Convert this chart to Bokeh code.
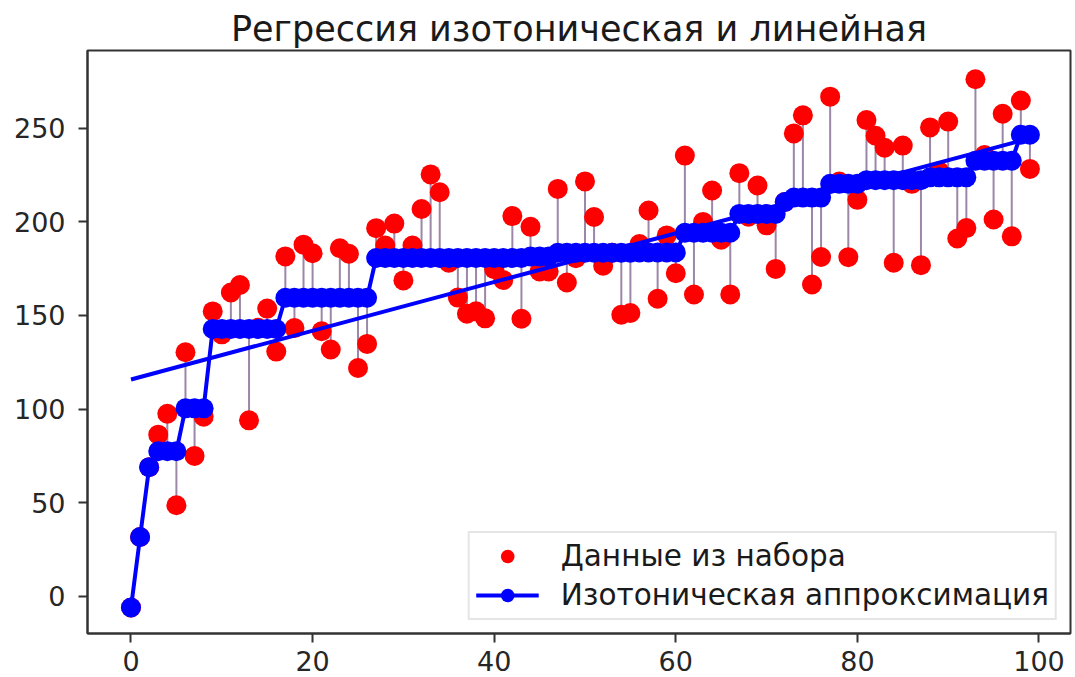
from bokeh.plotting import figure
from bokeh.models import Range1d, FixedTicker, Legend, LegendItem
from bokeh.embed import file_html
from bokeh.resources import INLINE

x_vals = list(range(100))

y_data = [-6.0, 31.66, 68.93, 86.31, 97.47, 48.59, 130.30, 74.97, 95.86, 152.13,
          139.89, 162.25, 166.25, 93.95, 143.40, 153.63, 130.66, 181.52, 143.22, 187.79,
          183.22, 141.55, 131.78, 185.90, 182.94, 121.90, 134.79, 196.61, 187.36, 199.06,
          168.70, 187.29, 206.83, 225.32, 215.77, 178.18, 159.54, 150.88, 152.18, 148.44,
          174.68, 168.89, 203.06, 148.21, 197.33, 173.43, 173.51, 217.56, 167.59, 180.60,
          221.59, 202.56, 176.51, 183.45, 150.37, 151.27, 188.15, 206.02, 158.88, 192.72,
          172.54, 235.36, 161.16, 199.94, 216.72, 190.48, 161.23, 225.97, 202.70, 219.42,
          198.13, 174.83, 210.52, 247.20, 256.87, 166.53, 181.19, 266.83, 221.47, 181.10,
          211.72, 254.33, 245.94, 239.54, 178.13, 240.71, 220.29, 176.86, 250.43, 226.99,
          253.54, 191.09, 196.63, 276.16, 235.69, 201.22, 257.73, 192.25, 264.76, 228.26]

y_iso = [-6.0, 31.66, 68.93, 77.46, 77.46, 77.46, 100.38, 100.38, 100.38, 142.77,
         142.77, 142.77, 142.77, 142.77, 142.77, 142.77, 142.77, 159.46, 159.46, 159.46,
         159.46, 159.46, 159.46, 159.46, 159.46, 159.46, 159.46, 180.65, 180.65, 180.65,
         180.65, 180.65, 180.65, 180.65, 180.65, 180.65, 180.65, 180.65, 180.65, 180.65,
         180.65, 180.65, 180.65, 180.65, 181.42, 181.42, 181.42, 183.50, 183.50, 183.50,
         183.50, 183.50, 183.50, 183.50, 183.50, 183.50, 183.66, 183.66, 183.66, 183.66,
         183.66, 194.15, 194.15, 194.15, 194.15, 194.15, 194.15, 204.21, 204.21, 204.21,
         204.21, 204.21, 210.52, 212.95, 212.95, 212.95, 212.95, 220.28, 220.28, 220.28,
         220.28, 222.26, 222.26, 222.26, 222.26, 222.26, 222.26, 222.26, 223.74, 223.74,
         223.74, 223.74, 223.74, 232.61, 232.61, 232.61, 232.61, 232.61, 246.51, 246.51]

lin_x = [0, 99]
lin_y = [115.8, 244.6]

x_ticks = [0, 20, 40, 60, 80, 100]
y_ticks = [0, 50, 100, 150, 200, 250]

title_text = "Регрессия изотоническая и линейная"
label_data = "Данные из набора"
label_iso = "Изотоническая аппроксимация"

FONT = "DejaVu Sans"

p = figure(width=1075, height=677, output_backend="svg", toolbar_location=None,
           x_range=Range1d(-4.79, 103.47), y_range=Range1d(-19.9, 291.5),
           min_border_left=87, min_border_right=5, min_border_top=50, min_border_bottom=44,
           title=title_text)

p.title.text_font = FONT
p.title.text_font_size = "35px"
p.title.text_font_style = "normal"
p.title.align = "center"
p.title.text_color = "#1a1a1a"
p.title.text_line_height = 1.0
p.title.standoff = 4

p.xgrid.visible = False
p.ygrid.visible = False
p.outline_line_color = "#333333"
p.outline_line_width = 2
p.background_fill_color = "white"
p.border_fill_color = "white"

for ax in (p.xaxis[0], p.yaxis[0]):
    ax.axis_line_color = "#333333"
    ax.axis_line_width = 2
    ax.major_tick_line_color = "#333333"
    ax.major_tick_line_width = 2
    ax.major_tick_out = 9
    ax.major_tick_in = 0
    ax.minor_tick_line_color = None
    ax.major_label_text_font = FONT
    ax.major_label_text_font_size = "27px"
    ax.major_label_text_color = "#262626"

p.xaxis[0].ticker = FixedTicker(ticks=x_ticks)
p.yaxis[0].ticker = FixedTicker(ticks=y_ticks)
p.xaxis[0].major_label_standoff = 8
p.yaxis[0].major_label_standoff = 13

p.segment(x0=x_vals, y0=y_data, x1=x_vals, y1=y_iso, line_color="#9c87a8", line_width=2)

r_data = p.scatter(x_vals, y_data, size=20, fill_color="#ff0000", line_color="#ff0000", line_width=0)
r_iso_line = p.line(x_vals, y_iso, line_color="#0000ff", line_width=4)
r_iso_pts = p.scatter(x_vals, y_iso, size=20, fill_color="#0000ff", line_color="#0000ff", line_width=0)
p.line(lin_x, lin_y, line_color="#0000ff", line_width=4)

legend = Legend(items=[LegendItem(label=label_data, renderers=[r_data]),
                       LegendItem(label=label_iso, renderers=[r_iso_line, r_iso_pts])],
                location="bottom_right")
legend.label_text_font = FONT
legend.label_text_font_size = "29.5px"
legend.label_text_color = "#1a1a1a"
legend.glyph_width = 63
legend.glyph_height = 34
legend.label_standoff = 22
legend.label_height = 34
legend.spacing = 5
legend.padding = 6
legend.margin = 13
legend.border_line_color = "#cccccc"
legend.border_line_width = 2
legend.background_fill_color = "white"
legend.background_fill_alpha = 0.8
p.add_layout(legend, "center")

open("out.html", "w").write(file_html(p, INLINE))
